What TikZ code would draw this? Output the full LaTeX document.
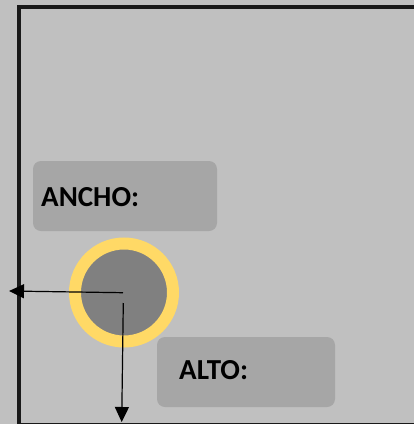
\documentclass[tikz,border=0pt]{standalone}
\usepackage{fontspec}
\setmainfont{Carlito}
\usetikzlibrary{arrows.meta}
\definecolor{bg}{HTML}{C0C0C0}
\definecolor{boxgray}{HTML}{A6A6A6}
\definecolor{ring}{HTML}{FFD966}
\definecolor{disc}{HTML}{808080}
\tikzset{
  labelbox/.style={fill=boxgray, draw=none, rounded corners=8pt},
  labeltext/.style={anchor=base west, inner sep=0pt, font=\bfseries\fontsize{29}{34}\selectfont, text=black},
  dimarrow/.style={draw=black, line width=1.2pt, -{Triangle[length=15pt,width=14pt]}}
}
\begin{document}
\begin{tikzpicture}[x=1pt,y=-1pt]
\useasboundingbox (0,0) rectangle (414,424);
\fill[bg] (0,0) rectangle (414,424);
\begin{scope}
\clip (0,0) rectangle (414,424);
\draw[line width=3.5pt, black!90] (19,7) rectangle (440,425);
\end{scope}
% label boxes
\fill[labelbox] (33,161) rectangle (217,231);
\node[labeltext] (ancho) at (41,206.5) {ANCHO:};
\fill[labelbox] (157,337) rectangle (335,407);
\node[labeltext] (alto) at (179,379) {ALTO:};
% circle
\node[circle, minimum size=98pt, inner sep=0pt, fill=disc, draw=ring, line width=12pt] (c) at (124,292.5) {};
\coordinate (h0) at (123,292.7);
\coordinate (h1) at (9,291);
\coordinate (v0) at (123.3,303);
\coordinate (v1) at (121.7,422);
\draw[dimarrow] (h0) -- (h1);
\draw[dimarrow] (v0) -- (v1);
\end{tikzpicture}
\end{document}
